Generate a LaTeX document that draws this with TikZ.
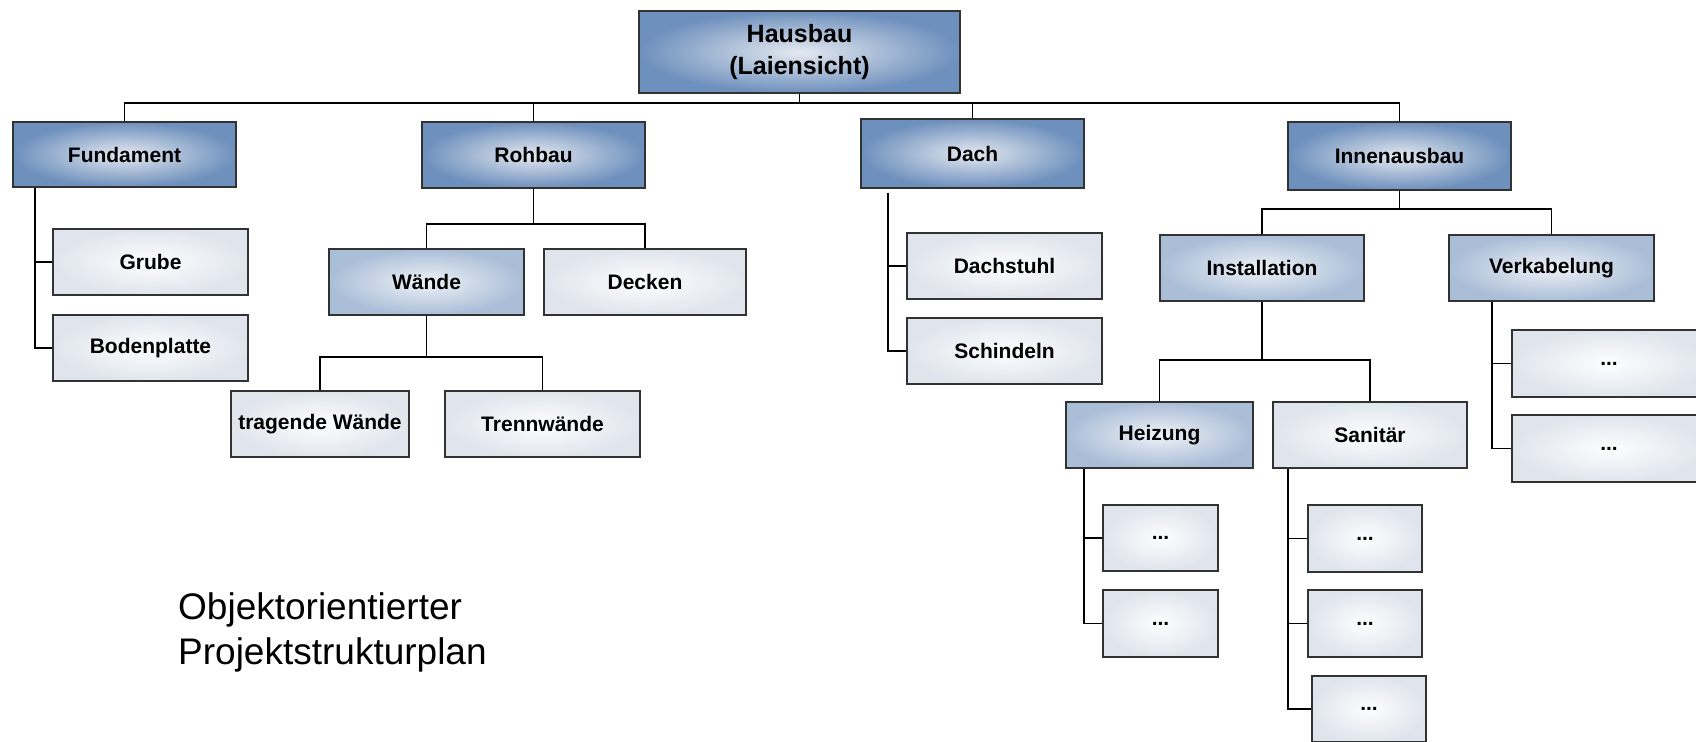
\documentclass[tikz,border=0pt]{standalone}
\usepackage{fontspec}
\setmainfont{Liberation Sans}
\definecolor{dkout}{RGB}{110,144,189}
\definecolor{dkin}{RGB}{228,233,240}
\definecolor{mdout}{RGB}{170,190,216}
\definecolor{mdin}{RGB}{238,241,246}
\definecolor{ltout}{RGB}{224,229,237}
\definecolor{ltin}{RGB}{253,253,254}
\definecolor{edgec}{RGB}{50,50,50}
\tikzset{
  box/.style={draw=edgec, line width=1.4pt, inner sep=0pt, align=center,
    font=\bfseries\fontsize{21}{25}\selectfont},
  dark/.style={box, inner color=dkin, outer color=dkout},
  medium/.style={box, inner color=mdin, outer color=mdout},
  light/.style={box, inner color=ltin, outer color=ltout},
  conn/.style={line width=1.8pt, black},
  caption/.style={font=\fontsize{37}{45}\selectfont, align=left, inner sep=0pt}
}
% \bx{style}{x1}{y1}{x2}{y2}{name}{text}
\newcommand\bx[7]{\node[#1, minimum width={#4-#2}, minimum height={#5-#3}] (#6) at ({(#2+#4)/2},{(#3+#5)/2}) {#7};}
\begin{document}
\begin{tikzpicture}[x=1pt,y=-1pt]
\useasboundingbox (0,0) rectangle (1696,741);
\clip (0,0) rectangle (1696,741);

% level 0
\bx{dark, font=\bfseries\fontsize{25}{32}\selectfont}{639}{11}{960}{93}{root}{Hausbau\\(Laiensicht)}
% level 1
\bx{dark}{13}{122}{236}{187}{fund}{Fundament}
\bx{dark}{422}{122}{645}{188}{roh}{Rohbau}
\bx{dark}{861}{119}{1084}{188}{dach}{Dach}
\bx{dark}{1288}{122}{1511}{190}{innen}{Innenausbau}
% Fundament
\bx{light}{53}{229}{248}{295}{grube}{Grube}
\bx{light}{53}{315}{248}{381}{boden}{Bodenplatte}
% Rohbau
\bx{medium}{329}{249}{524}{315}{waende}{Wände}
\bx{light}{544}{249}{746}{315}{decken}{Decken}
\bx{light}{231}{391}{409}{457}{tragend}{tragende Wände}
\bx{light}{445}{391}{640}{457}{trenn}{Trennwände}
% Dach
\bx{light}{907}{233}{1102}{299}{stuhl}{Dachstuhl}
\bx{light}{907}{318}{1102}{384}{schind}{Schindeln}
% Innenausbau
\bx{medium}{1160}{235}{1364}{301}{inst}{Installation}
\bx{medium}{1449}{235}{1654}{301}{verk}{Verkabelung}
\bx{medium}{1066}{402}{1253}{468}{heiz}{Heizung}
\bx{light}{1273}{402}{1467}{468}{sanit}{Sanitär}
\bx{light}{1103}{505}{1218}{571}{h1}{...}
\bx{light}{1103}{590}{1218}{657}{h2}{...}
\bx{light}{1308}{505}{1422}{572}{s1}{...}
\bx{light}{1308}{590}{1422}{657}{s2}{...}
\bx{light}{1312}{676}{1426}{742}{s3}{...}
\bx{light}{1512}{330}{1706}{397}{v1}{...}
\bx{light}{1512}{415}{1706}{482}{v2}{...}

% caption (base = last line)
\node[caption, anchor=base west] (cap) at (178,664) {Objektorientierter\\Projektstrukturplan};

% bus coordinates
\coordinate (b1) at (0,103);
\coordinate (b2) at (0,224);
\coordinate (b3) at (0,357);
\coordinate (b4) at (0,209);
\coordinate (b5) at (0,360);
\coordinate (xf) at (35,0);
\coordinate (xd) at (888,0);
\coordinate (xh) at (1084,0);
\coordinate (xs) at (1288,0);
\coordinate (xv) at (1492,0);

% top level
\draw[conn] (root.south) -- (root.south |- b1);
\draw[conn] (fund.north) |- (innen.north |- b1) -- (innen.north);
\draw[conn] (roh.north) -- (roh.north |- b1);
\draw[conn] (dach.north) -- (dach.north |- b1);
% Fundament
\draw[conn] (fund.south -| xf) |- (boden.west);
\draw[conn] (grube.west) -- (grube.west -| xf);
% Rohbau
\draw[conn] (roh.south) -- (roh.south |- b2);
\draw[conn] (waende.north) |- (decken.north |- b2) -- (decken.north);
\draw[conn] (waende.south) -- (waende.south |- b3);
\draw[conn] (tragend.north) |- (trenn.north |- b3) -- (trenn.north);
% Dach
\draw[conn] ([yshift=-4pt]dach.south -| xd) |- (schind.west);
\draw[conn] (stuhl.west) -- (stuhl.west -| xd);
% Innenausbau
\draw[conn] (innen.south) -- (innen.south |- b4);
\draw[conn] (inst.north) |- (verk.north |- b4) -- (verk.north);
\draw[conn] (inst.south) -- (inst.south |- b5);
\draw[conn] (heiz.north) |- (sanit.north |- b5) -- (sanit.north);
\draw[conn] (heiz.south -| xh) |- (h2.west);
\draw[conn] (h1.west) -- (h1.west -| xh);
\draw[conn] (sanit.south -| xs) |- (s3.west);
\draw[conn] (s1.west) -- (s1.west -| xs);
\draw[conn] (s2.west) -- (s2.west -| xs);
\draw[conn] (verk.south -| xv) |- (v2.west);
\draw[conn] (v1.west) -- (v1.west -| xv);
\end{tikzpicture}
\end{document}
